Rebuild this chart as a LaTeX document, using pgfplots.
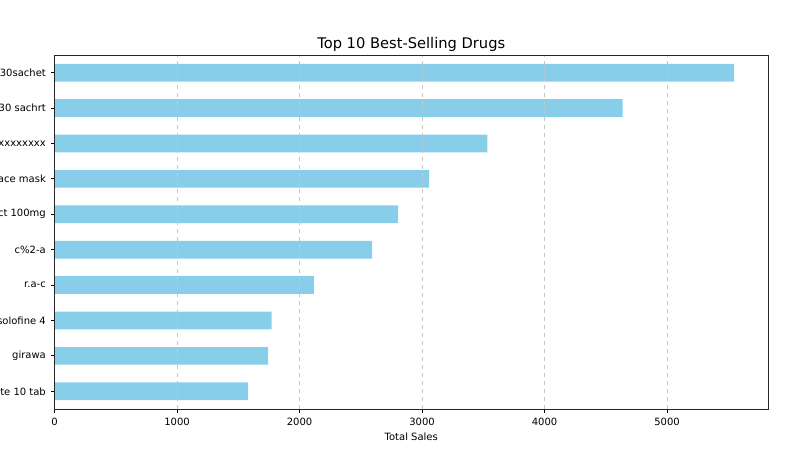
\documentclass[border=0pt]{standalone}
\usepackage{pgfplots}
\pgfplotsset{compat=1.18}
\usepackage{fontspec}
\setmainfont{DejaVu Sans}
\definecolor{skyblue}{HTML}{87CEEB}
\begin{document}
\begin{tikzpicture}
\begin{axis}[
  at={(0,0)}, anchor=south west,
  scale only axis, width=535.1pt, height=265.5pt,
  xmin=0, xmax=5824, ymin=-0.5, ymax=9.5,
  xbar, bar width=0.5,
  ytick={0,...,9},
  yticklabels={te 10 tab, girawa, solofine 4, r.a-c, c\%2-a, ct 100mg, ace mask, xxxxxxxx, 30 sachrt, 30sachet},
  xtick={0,1000,...,5000},
  scaled x ticks=false,
  xticklabel style={/pgf/number format/1000 sep={}},
  tick label style={font=\fontsize{7.5}{9}\selectfont},
  /pgf/number format/assume math mode=true,
  xmajorgrids, grid style={dashed, gray!45, line width=0.5pt},
  axis on top,
  tick align=outside, tick pos=left,
  major tick length=3pt,
  tick style={black, line width=0.6pt},
  axis line style={black!85, line width=0.6pt},
  title={Top 10 Best-Selling Drugs},
  title style={font=\fontsize{11}{13}\selectfont, at={(0.5,1)}, anchor=base, yshift=-1pt},
  xlabel={Total Sales}, xlabel style={font=\fontsize{7.5}{9}\selectfont, yshift=1pt},
]
\addplot[fill=skyblue, draw=none] coordinates {(1580,0) (1743,1) (1773,2) (2116,3) (2592,4) (2804,5) (3057,6) (3533,7) (4638,8) (5547,9)};
\end{axis}
\pgfresetboundingbox
\path[use as bounding box] (-40.9pt,-38.25pt) rectangle (559.1pt,306.75pt);
\end{tikzpicture}
\end{document}
